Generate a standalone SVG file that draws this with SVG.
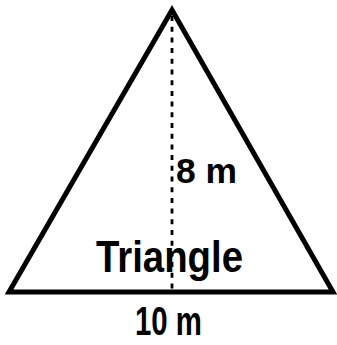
<svg xmlns="http://www.w3.org/2000/svg" width="337" height="345" viewBox="0 0 337 345">
<style>
.lbl{font-family:"Liberation Sans",Arial,sans-serif;font-weight:bold;fill:#000}
</style>
<rect width="337" height="345" fill="#fff"/>
<g id="triangle">
<polygon points="172,10 9,292 333,292" fill="none" stroke="#000" stroke-width="5" stroke-linejoin="miter"/>
</g>
<g id="connectors">
<line x1="172" y1="16" x2="172" y2="290" stroke="#000" stroke-width="2.8" stroke-dasharray="5,5.7"/>
</g>
<g id="labels">
<text class="lbl" x="176" y="183" font-size="35" textLength="61" lengthAdjust="spacingAndGlyphs">8 m</text>
<text class="lbl" x="96" y="272" font-size="44" textLength="147" lengthAdjust="spacingAndGlyphs">Triangle</text>
<text class="lbl" x="135" y="335" font-size="41" textLength="67" lengthAdjust="spacingAndGlyphs">10 m</text>
</g>
</svg>
